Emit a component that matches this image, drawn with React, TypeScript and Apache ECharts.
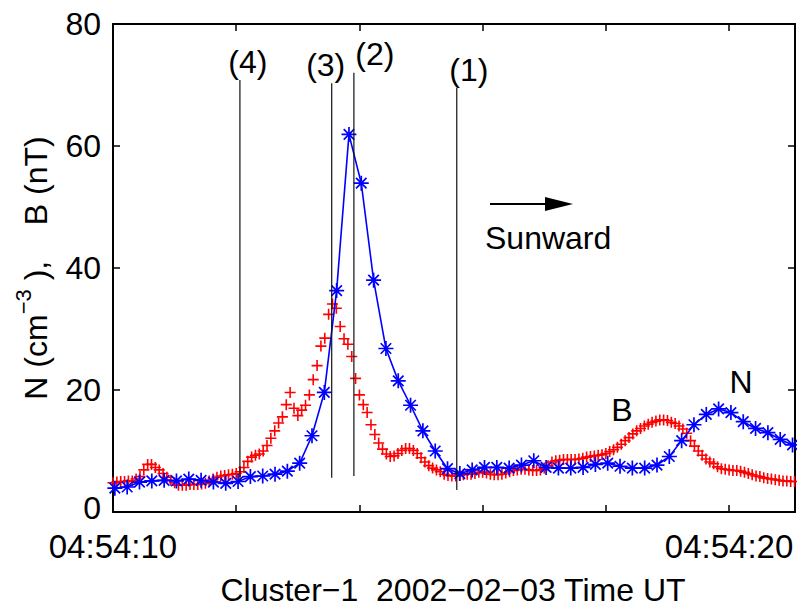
import React, { useEffect, useRef } from "react";
import * as echarts from "echarts";

// Time axis: seconds after 04:54:00 UT
const X_MIN = 10;
const X_MAX = 21.07;
const X_TICK_LABELS: Record<number, string> = { 10: "04:54:10", 20: "04:54:20" };

// N (cm^-3), blue asterisks, sampled every 0.2 s starting at 10.03 s
const N_START = 10.03;
const N_STEP = 0.2;
const nValues = [
  3.9, 4.1, 4.9, 5.1, 5.2, 5.1, 5.4, 5.2, 4.9, 4.7,
  5.0, 5.8, 5.9, 6.2, 6.7, 8.0, 12.5, 19.6, 36.3, 61.9,
  53.9, 38.0, 26.8, 21.5, 17.5, 13.3, 10.0, 7.1, 6.3, 6.9,
  7.3, 7.3, 7.2, 7.7, 8.4, 7.3, 7.2, 7.2, 7.3, 7.8,
  8.0, 7.5, 7.2, 7.2, 7.7, 9.1, 11.7, 14.3, 16.0, 16.9,
  16.3, 14.8, 13.7, 13.0, 11.9, 11.0,
];

// B (nT), red pluses, sampled every 0.0625 s starting at 10 s
const B_START = 10;
const B_STEP = 0.0625;
const bValues = [
  4.8, 4.9, 5.0, 5.0, 5.1, 5.1, 5.4, 5.8, 6.9, 7.8,
  7.8, 7.3, 6.9, 6.3, 5.7, 5.2, 4.8, 4.4, 4.4, 4.4,
  4.5, 4.5, 4.5, 4.6, 4.7, 5.1, 5.4, 5.7, 5.9, 6.0,
  6.1, 6.2, 6.3, 6.6, 7.3, 8.3, 9.0, 9.3, 9.5, 10.0,
  10.9, 12.1, 13.3, 14.6, 15.6, 17.6, 19.6, 17.0, 15.8, 16.7,
  17.5, 19.2, 21.7, 24.0, 27.2, 28.5, 32.4, 34.1, 33.4, 30.4,
  28.4, 27.5, 25.5, 21.9, 19.2, 17.6, 16.3, 14.3, 12.7, 11.3,
  10.3, 9.5, 9.1, 9.2, 9.6, 10.1, 10.4, 10.4, 10.1, 9.6,
  8.9, 8.2, 7.6, 7.2, 6.9, 6.6, 6.2, 6.0, 5.9, 5.9,
  6.0, 6.1, 6.2, 6.2, 6.3, 6.5, 6.5, 6.4, 6.2, 6.1,
  6.1, 6.2, 6.4, 6.6, 6.8, 6.9, 7.0, 7.0, 6.9, 6.8,
  6.8, 6.9, 7.2, 7.6, 8.2, 8.4, 8.5, 8.6, 8.6, 8.6,
  8.6, 8.7, 8.8, 9.0, 9.1, 9.2, 9.3, 9.4, 9.6, 9.9,
  10.2, 10.6, 11.1, 11.7, 12.2, 12.8, 13.3, 13.7, 14.1, 14.4,
  14.7, 14.9, 15.1, 15.1, 15.0, 14.7, 14.5, 14.1, 13.6, 12.9,
  11.7, 10.8, 10.0, 9.3, 8.7, 8.2, 7.9, 7.4, 7.1, 7.0,
  6.9, 6.8, 6.8, 6.7, 6.5, 6.3, 6.1, 5.9, 5.8, 5.6,
  5.5, 5.4, 5.3, 5.2, 5.1, 5.1, 5.0, 5.0,
];

// Boundary markers (1)-(4)
const eventLabels = ["(4)", "(3)", "(2)", "(1)"];
const eventTimes = [12.06, 13.55, 13.91, 15.58];
const eventTops = [70.8, 70.3, 72.0, 69.5];
const eventBottoms = [5.2, 5.6, 5.9, 3.6];

const FONT = "'Liberation Sans', Arial, Helvetica, sans-serif";
const LABEL_DX = [8, -6, 21, 12];

const ASTERISK = "path://M10 0 L10 20 M0 10 L20 10 M3 3 L17 17 M3 17 L17 3";
const PLUS = "path://M10 0 L10 20 M0 10 L20 10";

export default function App() {
  const ref = useRef<HTMLDivElement>(null);

  useEffect(() => {
    if (!ref.current) return;
    const chart = echarts.init(ref.current, undefined, { renderer: "svg" });

    const nData = nValues.map((v, i) => [N_START + i * N_STEP, v]);
    const bData = bValues.map((v, i) => [B_START + i * B_STEP, v]);

    const eventSeries = eventTimes.map((t, i) => ({
      type: "line",
      symbol: "none",
      silent: true,
      z: 5,
      lineStyle: { color: "#111", width: 1.2 },
      data: [
        [t, eventTops[i]],
        [t, eventBottoms[i]],
      ],
    }));

    const eventLabelSeries = {
      type: "scatter",
      silent: true,
      z: 6,
      symbol: "circle",
      symbolSize: 1,
      itemStyle: { color: "rgba(0,0,0,0)", opacity: 1 },
      data: eventTimes.map((t, i) => ({
        value: [t, eventTops[i]],
        label: {
          show: true,
          position: "top",
          distance: 2,
          offset: [LABEL_DX[i], 0],
          formatter: eventLabels[i],
          fontFamily: FONT,
          fontSize: 32,
          color: "#000",
          opacity: 1,
        },
      })),
    };

    const axisCommon = {
      type: "value",
      axisLine: { show: true, onZero: false, lineStyle: { color: "#000", width: 2 } },
      axisTick: { show: true, inside: true, length: 7, lineStyle: { color: "#000", width: 1.5 } },
      splitLine: { show: false },
    };

    chart.setOption({
      animation: false,
      backgroundColor: "#fff",
      grid: { left: 113, top: 24, width: 682, height: 488, containLabel: false },
      xAxis: [
        {
          ...axisCommon,
          position: "bottom",
          min: X_MIN,
          max: X_MAX,
          interval: 2,
          axisLabel: {
            show: true,
            margin: 20,
            lineHeight: 28,
            fontFamily: FONT,
            fontSize: 33,
            color: "#000",
            showMaxLabel: false,
            formatter: (v: number) =>
              Math.abs(v - Math.round(v)) < 1e-6 && X_TICK_LABELS[Math.round(v)] ? X_TICK_LABELS[Math.round(v)] : "",
          },
        },
        {
          ...axisCommon,
          position: "top",
          min: X_MIN,
          max: X_MAX,
          interval: 2,
          axisLabel: { show: false },
        },
      ],
      yAxis: [
        {
          ...axisCommon,
          position: "left",
          min: 0,
          max: 80,
          interval: 20,
          axisLabel: {
            show: true,
            margin: 12,
            lineHeight: 26,
            fontFamily: FONT,
            fontSize: 32,
            color: "#000",
            formatter: (v: number) => (v === 0 ? "{z|0}" : String(v)),
            rich: {
              z: { fontFamily: FONT, fontSize: 32, lineHeight: 26, padding: [0, 0, 8, 0], color: "#000" },
            },
          },
        },
        {
          ...axisCommon,
          position: "right",
          min: 0,
          max: 80,
          interval: 20,
          axisLabel: { show: false },
        },
      ],
      series: [
        {
          name: "B",
          type: "scatter",
          data: bData,
          symbol: PLUS,
          symbolSize: 11,
          z: 2,
          itemStyle: { color: "#ff0000", borderColor: "#ff0000", borderWidth: 1.6, opacity: 1 },
        },
        {
          name: "N",
          type: "line",
          data: nData,
          symbol: ASTERISK,
          symbolSize: 15,
          showAllSymbol: true,
          z: 3,
          lineStyle: { color: "#0000ff", width: 1.6 },
          itemStyle: { color: "#0000ff", borderColor: "#0000ff", borderWidth: 1.7 },
        },
        ...eventSeries,
        eventLabelSeries,
      ],
      graphic: [
        {
          type: "text",
          x: 32,
          y: 268,
          rotation: Math.PI / 2,
          style: {
            text: "{a|N (cm}{s|−3}{a| ),    B (nT)}",
            align: "center",
            verticalAlign: "middle",
            fill: "#000",
            rich: {
              a: { fontFamily: FONT, fontSize: 32, lineHeight: 40, verticalAlign: "bottom", fill: "#000" },
              s: { fontFamily: FONT, fontSize: 22, lineHeight: 24, verticalAlign: "top", fill: "#000" },
            },
          },
        },
        {
          type: "text",
          x: 453,
          y: 590,
          style: {
            text: "Cluster−1  2002−02−03 Time UT",
            align: "center",
            verticalAlign: "middle",
            fontFamily: FONT,
            fontSize: 32,
            fill: "#000",
          },
        },
        {
          type: "line",
          shape: { x1: 490, y1: 204, x2: 550, y2: 204 },
          style: { stroke: "#000", lineWidth: 2 },
        },
        {
          type: "polygon",
          shape: { points: [[545, 197], [573, 204], [545, 211]] },
          style: { fill: "#000" },
        },
        {
          type: "text",
          x: 485,
          y: 238,
          style: { text: "Sunward", align: "left", verticalAlign: "middle", fontFamily: FONT, fontSize: 32, fill: "#000" },
        },
        {
          type: "text",
          x: 622,
          y: 410,
          style: { text: "B", align: "center", verticalAlign: "middle", fontFamily: FONT, fontSize: 32, fill: "#000" },
        },
        {
          type: "text",
          x: 741,
          y: 382,
          style: { text: "N", align: "center", verticalAlign: "middle", fontFamily: FONT, fontSize: 32, fill: "#000" },
        },
      ],
    });

    return () => chart.dispose();
  }, []);

  return (
    <div
      ref={ref}
      style={{ position: "absolute", left: 0, top: 0, width: 797, height: 608, background: "#fff" }}
    />
  );
}
